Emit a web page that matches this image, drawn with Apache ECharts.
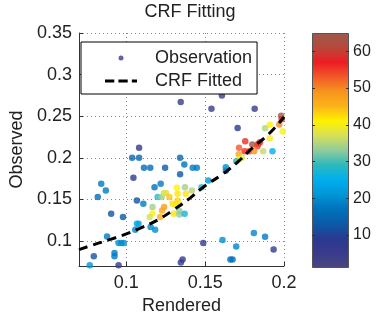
<!DOCTYPE html>
<html>
<head>
<meta charset="utf-8">
<script src="https://cdn.jsdelivr.net/npm/echarts@6/dist/echarts.min.js"></script>
<style>html,body{margin:0;padding:0;background:#fff}#c{width:382px;height:322px}</style>
</head>
<body>
<div id="c"></div>
<script>
const obsX = [0.1345,0.1540,0.1606,0.1814,0.1706,0.1982,0.1985,0.1970,0.1910,0.1880,
0.1992,0.1910,0.1868,0.1927,0.1754,0.1799,0.1837,0.1848,0.1832,0.1779,
0.1811,0.1750,0.1715,0.1713,0.1732,0.1712,0.1697,0.1631,0.1631,0.1520,
0.1447,0.1421,0.1368,0.1341,0.1341,0.1372,0.1416,0.1378,0.1477,0.1081,
0.1037,0.1081,0.1112,0.1152,0.1246,0.1045,0.1179,0.1218,0.0841,0.0870,
0.0819,0.1067,0.1108,0.1199,0.1224,0.1238,0.1253,0.1273,0.1325,0.1321,
0.1293,0.1325,0.1314,0.1335,0.1166,0.1166,0.1148,0.1240,0.1227,0.1215,
0.1301,0.1337,0.1337,0.1370,0.0904,0.0979,0.1067,0.1078,0.1057,0.1154,
0.1183,0.0878,0.0951,0.0968,0.0984,0.0925,0.0925,0.0794,0.0768,0.0951,
0.1357,0.1346,0.1488,0.1610,0.1697,0.1809,0.1880,0.1934,0.1660,0.1674];
const obsY = [0.2671,0.2591,0.2750,0.2591,0.2357,0.2507,0.2465,0.2399,0.2396,0.2355,
0.2315,0.2235,0.2079,0.2079,0.2199,0.2159,0.2168,0.2187,0.2139,0.2079,
0.2079,0.2079,0.2120,0.2043,0.2000,0.1980,0.1959,0.1887,0.1844,0.1728,
0.1880,0.1880,0.1920,0.2000,0.1803,0.1647,0.1608,0.1568,0.1647,0.2120,
0.2000,0.2000,0.1880,0.1880,0.1880,0.1760,0.1647,0.1688,0.1688,0.1608,
0.1528,0.1488,0.1448,0.1528,0.1528,0.1578,0.1578,0.1528,0.1568,0.1640,
0.1448,0.1488,0.1440,0.1440,0.1408,0.1332,0.1288,0.1408,0.1368,0.1288,
0.1329,0.1360,0.1320,0.1329,0.1329,0.1288,0.1209,0.1209,0.1137,0.1168,
0.1137,0.1056,0.0976,0.0976,0.0976,0.0856,0.0817,0.0817,0.0710,0.0710,
0.0778,0.0741,0.0976,0.1012,0.0933,0.1096,0.1053,0.0897,0.0777,0.0777];
const obsC = [5,5,5,5,9,64,59,50,41,35,
41,40,36,25,56,63,57,56,55,55,
49,56,53,47,38,41,28,20,20,21,
18,18,17,15,13,34,35,42,28,7,
15,15,16,16,13,8,17,18,18,18,
16,12,18,29,34,37,38,44,42,41,
42,43,42,40,34,41,37,48,47,46,
42,33,33,27,12,13,24,24,19,19,
20,18,20,20,20,18,18,12,21,7,
7,7,7,20,19,19,18,7,17,17];

const fitX = [0.07,0.08,0.09,0.10,0.11,0.12,0.13,0.14,0.15,0.16,0.17,0.18,0.19,0.20];
const fitY = [0.0897,0.096,0.102,0.1085,0.1165,0.1255,0.1375,0.151,0.1665,0.179,0.194,0.212,0.228,0.249];

const xTicks = [0.1,0.15,0.2];
const yTicks = [0.1,0.15,0.2,0.25,0.3,0.35];
const cbTicks = [10,20,30,40,50,60];
const cbMin = 1, cbMax = 65;
const cbValues = [1,5,9,13,17,21,25,29,33,37,41,45,49,53,57,61,65];
const cbColors = ['#4a4781','#393b8c','#2a3990','#0c5aa6','#0072bc','#0096d6','#00aeef','#2bb9bd','#8fcb9d','#d6e05a','#fff200','#fbb41a','#f7941d','#f15a29','#ed1c24','#b9473a','#9c5b4c'];

const FONT = "'Liberation Sans', Arial, sans-serif";
const TXT = '#222';
const chart = echarts.init(document.getElementById('c'));
const obsData = obsX.map((x,i)=>[x, obsY[i], obsC[i]]);
const fitData = fitX.map((x,i)=>[x, fitY[i]]);
const gradStops = cbValues.map((v,i)=>({offset:(cbMax - v)/(cbMax-cbMin), color:cbColors[i]})).reverse();
const dotted = {type:[1,3], color:'#888', width:1};

chart.setOption({
  animation:false,
  textStyle:{fontFamily:FONT},
  title:{text:'CRF Fitting', left:190, top:3, padding:0, textAlign:'center',
    textStyle:{fontFamily:FONT, fontSize:18, fontWeight:'normal', color:TXT}},
  grid:[
    {left:72, top:33, width:212, height:233},
    {left:312, top:33, width:37, height:235}
  ],
  visualMap:{show:false, type:'continuous', dimension:2, min:cbMin, max:cbMax, seriesIndex:0,
    inRange:{color:cbColors}},
  legend:{
    data:[
      {name:'Observation', icon:'circle', itemStyle:{color:'#3b3b8f'}},
      {name:'CRF Fitted', icon:'path://M0,0H9V3H0Z M13,0H22V3H13Z M26,0H31V3H26Z', itemStyle:{color:'#000'}}
    ],
    left:81, top:42, orient:'vertical', itemWidth:32, itemHeight:5, itemGap:5,
    padding:[7,5,4,24], borderColor:'#000', borderWidth:1, backgroundColor:'#fff',
    formatter:n => '{g| }{t|' + n + '}',
    textStyle:{fontFamily:FONT, fontSize:18, color:TXT,
      rich:{g:{width:13, fontSize:18, fontFamily:FONT}, t:{fontFamily:FONT, fontSize:18, color:TXT}}},
    z:6
  },
  xAxis:[
    {type:'value', gridIndex:0, min:0.07, max:0.2,
     name:'Rendered', nameLocation:'middle', nameGap:29,
     nameTextStyle:{fontFamily:FONT, fontSize:18, color:TXT},
     axisLine:{lineStyle:{color:'#333', width:1}},
     axisTick:{inside:true, length:4, customValues:xTicks, lineStyle:{color:'#333'}},
     axisLabel:{customValues:xTicks, margin:8, fontFamily:FONT, fontSize:18, color:TXT},
     splitLine:{show:true, lineStyle:dotted}},
    {type:'category', gridIndex:1, data:[''], show:false}
  ],
  yAxis:[
    {type:'value', gridIndex:0, min:0.07, max:0.35,
     name:'Observed', nameLocation:'middle', nameGap:53,
     nameTextStyle:{fontFamily:FONT, fontSize:18, color:TXT},
     axisLine:{show:true, lineStyle:{color:'#333', width:1}},
     axisTick:{show:true, inside:true, length:4, customValues:yTicks, lineStyle:{color:'#333'}},
     axisLabel:{customValues:yTicks, margin:7, fontFamily:FONT, fontSize:18, color:TXT},
     splitLine:{show:true, lineStyle:dotted}},
    {type:'value', gridIndex:1, min:cbMin, max:cbMax, position:'right', z:10,
     axisLine:{show:false}, splitLine:{show:false},
     axisTick:{show:true, inside:true, length:3, customValues:cbTicks, lineStyle:{color:'#333'}},
     axisLabel:{customValues:cbTicks, margin:4, fontFamily:FONT, fontSize:16, color:TXT}},
    {type:'value', gridIndex:1, min:cbMin, max:cbMax, position:'left', z:10,
     axisLine:{show:false}, splitLine:{show:false},
     axisTick:{show:true, inside:true, length:3, customValues:cbTicks, lineStyle:{color:'#333'}},
     axisLabel:{show:false}}
  ],
  series:[
    {name:'Observation', type:'scatter', xAxisIndex:0, yAxisIndex:0, data:obsData,
     symbol:'circle', symbolSize:6.5, z:2},
    {name:'CRF Fitted', type:'line', xAxisIndex:0, yAxisIndex:0, data:fitData,
     smooth:true, showSymbol:false, symbol:'none', z:4,
     itemStyle:{color:'#000'},
     lineStyle:{color:'#000', width:3, type:[9,6]}},
    {type:'bar', xAxisIndex:1, yAxisIndex:1, stack:'cb', barWidth:'100%', silent:true,
     data:[cbMin], itemStyle:{color:'rgba(0,0,0,0)'}},
    {type:'bar', xAxisIndex:1, yAxisIndex:1, stack:'cb', barWidth:'100%', silent:true,
     data:[cbMax-cbMin],
     itemStyle:{borderColor:'#555', borderWidth:1,
       color:new echarts.graphic.LinearGradient(0,0,0,1, gradStops)}}
  ]
});
</script>
</body>
</html>
